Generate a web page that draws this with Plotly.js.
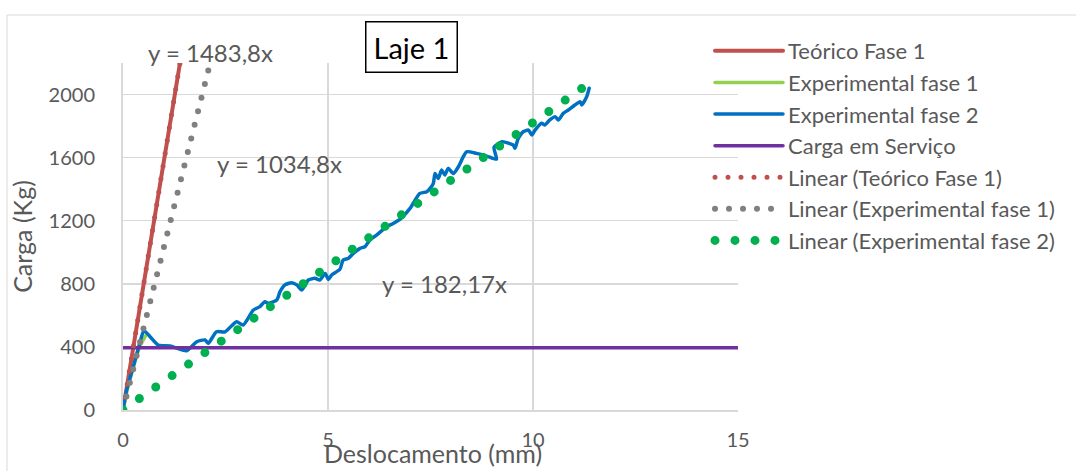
<!DOCTYPE html>
<html>
<head>
<meta charset="utf-8">
<script src="https://cdn.plot.ly/plotly-3.0.1.min.js"></script>
<style>
html,body{margin:0;padding:0;background:#fff;}
#chart{width:1076px;height:471px;}
.scatterlayer .js-line, .legendlines path { stroke-linecap: round; }
</style>
</head>
<body>
<div id="chart"></div>
<script>
// ---- data ----
var teoricoX = [0, 0.5, 1.0, 1.39];
var teoricoY = [0, 790, 1580, 2200];

var exp1X = [0, 0.1, 0.25, 0.4, 0.55];
var exp1Y = [0, 125, 270, 400, 470];

var exp2X = [0, 0.09, 0.25, 0.41, 0.51, 0.66, 0.86, 1.15, 1.55, 1.80, 2.0, 2.08, 2.28, 2.49, 2.77, 2.93,
  3.18, 3.34, 3.46, 3.54, 3.75, 3.83, 3.95, 4.11, 4.24, 4.36, 4.52, 4.68, 4.80, 4.93, 5.01, 5.09,
  5.29, 5.37, 5.50, 5.62, 5.78, 5.90, 6.02, 6.19, 6.43, 6.59, 6.76, 7.0, 7.24, 7.41, 7.49, 7.57,
  7.61, 7.69, 7.77, 7.85, 7.93, 8.06, 8.18, 8.30, 8.38, 8.62, 8.87, 9.11, 9.05, 9.25, 9.42, 9.52,
  9.56, 9.64, 9.76, 9.89, 9.97, 10.05, 10.21, 10.29, 10.41, 10.54, 10.62, 10.74, 10.86, 11.02,
  11.15, 11.19, 11.31, 11.37];
var exp2Y = [0, 127, 275, 424, 503, 465, 412, 406, 376, 433, 444, 423, 496, 496, 560, 539,
  634, 655, 687, 676, 697, 750, 793, 807, 793, 761, 824, 835, 824, 866, 828, 856,
  892, 951, 962, 993, 1025, 1035, 1078, 1110, 1162, 1183, 1210, 1278, 1373, 1384, 1405, 1437,
  1500, 1468, 1521, 1490, 1532, 1500, 1542, 1606, 1637, 1627, 1610, 1590, 1665, 1701, 1690, 1680,
  1659, 1722, 1764, 1775, 1744, 1775, 1818, 1807, 1839, 1860, 1839, 1881, 1902, 1934,
  1955, 1934, 1987, 2040];

var servicoX = [0, 15.05];
var servicoY = [395, 395];

var trendTeoricoX = [0, 1.39];
var trendTeoricoY = [0, 2200];
var trendExp1X = [0, 2.12];
var trendExp1Y = [0, 2194];
var trendExp2X = [0, 11.34];
var trendExp2Y = [0, 2066];

var xTicks = [0, 5, 10, 15];
var yTicks = [0, 400, 800, 1200, 1600, 2000];

var names = ['Teórico Fase 1', 'Experimental fase 1', 'Experimental fase 2', 'Carga em Serviço',
  'Linear (Teórico Fase 1)', 'Linear (Experimental fase 1)', 'Linear (Experimental fase 2)'];

var eqLabels = ['y = 1483,8x', 'y = 1034,8x', 'y = 182,17x'];
var chartTitle = 'Laje 1';
var xTitle = 'Deslocamento (mm)';
var yTitle = 'Carga (Kg)';

// ---- traces ----
function tr(x, y, i, color, width, dash) {
  return {x: x, y: y, type: 'scatter', mode: 'lines', name: names[i], legendgroup: 'g' + i,
    line: {color: color, width: width, dash: dash || 'solid'}, hoverinfo: 'skip'};
}
var data = [
  tr(teoricoX, teoricoY, 0, '#C0504D', 4),
  tr(exp1X, exp1Y, 1, '#92D050', 3.5),
  tr(exp2X, exp2Y, 2, '#0070C0', 3.5),
  tr(servicoX, servicoY, 3, '#7030A0', 3.5),
  tr(trendTeoricoX, trendTeoricoY, 4, '#C0504D', 5, '0px,13px'),
  tr(trendExp1X, trendExp1Y, 5, '#808080', 6, '0px,14px'),
  tr(trendExp2X, trendExp2Y, 6, '#00B050', 9, '0px,20px')
];
data[2].line.shape = 'spline';
data[2].line.smoothing = 0.6;
data[3].cliponaxis = false;

var FONT = 'Lato, "Open Sans", sans-serif';
var GRAY = '#595959';

function ann(text, px, py, size, color) {
  return {text: text, xref: 'paper', yref: 'paper', x: (px - 123) / 615, y: (410 - py) / 347,
    xanchor: 'center', yanchor: 'middle', showarrow: false,
    font: {family: FONT, size: size, color: color || GRAY}};
}
var titleAnn = ann(chartTitle, 411, 47, 29, '#000000');
titleAnn.bordercolor = '#000000';
titleAnn.borderwidth = 1.5;
titleAnn.borderpad = 7;
titleAnn.bgcolor = '#ffffff';

var xTitleAnn = ann(xTitle, 433, 453, 25);
xTitleAnn.borderpad = 0;

var layout = {
  width: 1076, height: 471,
  margin: {l: 123, r: 338, t: 63, b: 61},
  paper_bgcolor: '#ffffff', plot_bgcolor: '#ffffff',
  font: {family: FONT, size: 20, color: GRAY},
  showlegend: true,
  legend: {x: (710 - 123) / 615, y: 1.095, xanchor: 'left', yanchor: 'top', traceorder: 'grouped',
    tracegroupgap: 0, font: {family: FONT, size: 22, color: GRAY}, bgcolor: 'rgba(0,0,0,0)',
    itemwidth: 68, maxheight: 1000},
  xaxis: {range: [0, 15], tickvals: xTicks, showgrid: true, gridcolor: '#d9d9d9', gridwidth: 1.5,
    showline: true, linecolor: '#d9d9d9', linewidth: 2, zeroline: false, ticks: '',
    ticklabelstandoff: 11, tickfont: {family: FONT, size: 20, color: GRAY},
    fixedrange: true},
  yaxis: {range: [0, 2200], tickvals: yTicks, showgrid: true, gridcolor: '#d9d9d9', gridwidth: 1.5,
    showline: true, linecolor: '#d9d9d9', linewidth: 2, zeroline: false, ticks: '',
    ticklabelstandoff: 22, tickfont: {family: FONT, size: 20, color: GRAY},
    title: {text: yTitle, font: {family: FONT, size: 25, color: GRAY}, standoff: 9},
    fixedrange: true},
  shapes: [{type: 'rect', xref: 'paper', yref: 'paper',
    x0: (7 - 123) / 615, x1: (1085 - 123) / 615, y0: (410 - 480) / 347, y1: (410 - 15) / 347,
    line: {color: '#d9d9d9', width: 1}, fillcolor: 'rgba(0,0,0,0)', layer: 'below'}],
  annotations: [
    titleAnn,
    ann(eqLabels[0], 210, 53, 24),
    ann(eqLabels[1], 279, 163, 24),
    ann(eqLabels[2], 444, 283, 24),
    xTitleAnn
  ]
};

Plotly.newPlot('chart', data, layout, {displayModeBar: false, staticPlot: true});
</script>
</body>
</html>
